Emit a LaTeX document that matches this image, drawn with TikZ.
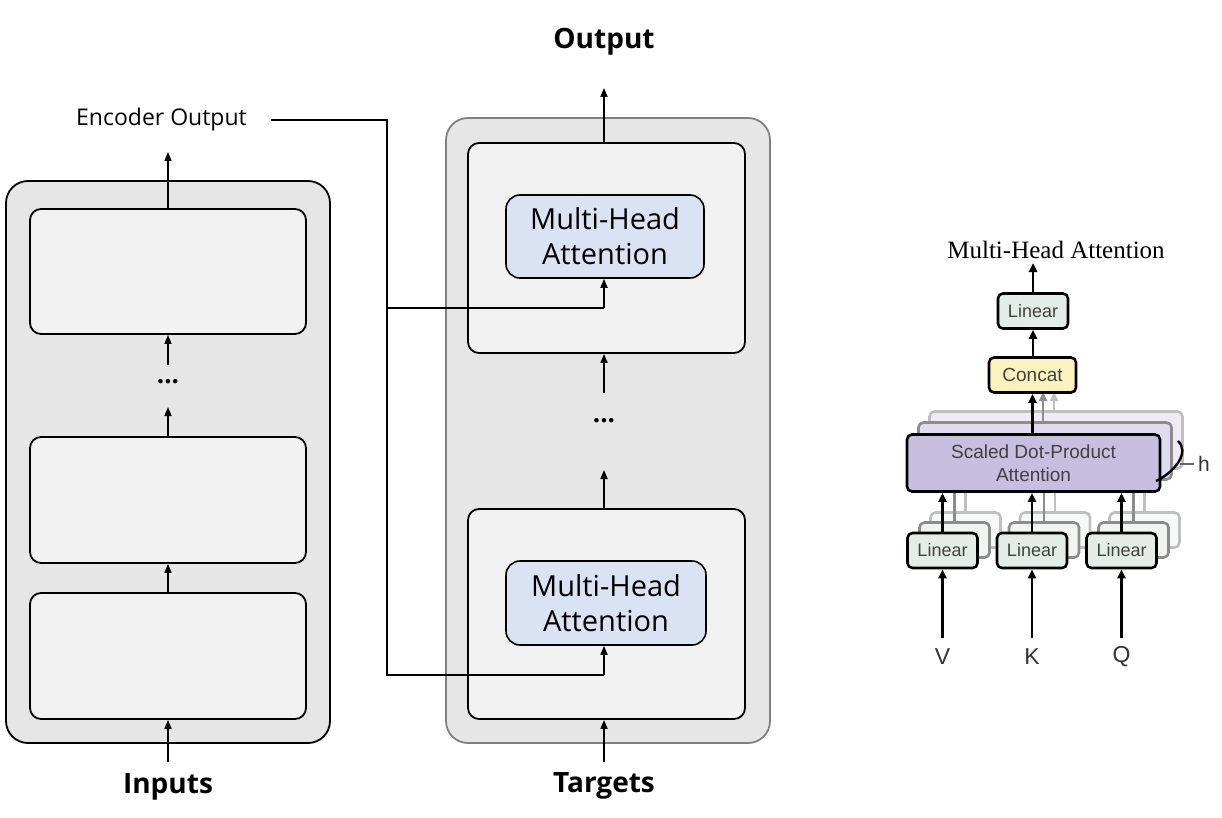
\documentclass[tikz,border=0pt]{standalone}
\usepackage{fontspec}
\setmainfont{Open Sans}
\newfontfamily\helv{Liberation Sans}
\newfontfamily\tms{Liberation Serif}
\usetikzlibrary{arrows.meta}
\definecolor{outerfill}{HTML}{E6E6E6}
\definecolor{innerfill}{HTML}{F2F2F2}
\definecolor{mhafill}{HTML}{DAE3F3}
\definecolor{decborder}{HTML}{808080}
\definecolor{linfill}{HTML}{E4ECE8}
\definecolor{catfill}{HTML}{FBF3BE}
\definecolor{sdpfill}{HTML}{C7BEE0}
\tikzset{
  outerbox/.style={draw=black, line width=1.8pt, fill=outerfill, rounded corners=22pt, inner sep=0pt},
  innerbox/.style={draw=black, line width=1.8pt, fill=innerfill, rounded corners=11pt, inner sep=0pt},
  mhabox/.style={draw=black, line width=1.6pt, fill=mhafill, rounded corners=14pt, inner sep=0pt, align=center, font=\fontsize{29}{35}\selectfont},
  arr/.style={line width=1.6pt, -{Triangle[length=9pt,width=7pt]}},
  conn/.style={line width=1.6pt},
  lbl/.style={inner sep=0pt, font=\fontsize{28}{32}\selectfont\bfseries},
  dots/.style={inner sep=0pt, font=\fontsize{26}{30}\selectfont\bfseries},
  mbox/.style={draw=black, line width=2.6pt, rounded corners=5pt, inner sep=0pt, align=center, font=\helv\fontsize{18}{22}\selectfont, text=black!75},
  shadowA/.style={mbox, draw=black!45, fill=#1!55!white},
  shadowB/.style={mbox, draw=black!25, fill=#1!30!white},
  marr/.style={line width=2.6pt, -{Triangle[length=9pt,width=8pt]}},
}
\begin{document}
\begin{tikzpicture}[x=1pt,y=-1pt]
\useasboundingbox (0,0) rectangle (1222,818);

% ---------- Encoder ----------
\node[outerbox, minimum width=324pt, minimum height=562pt] (enc) at (168,462) {};
\node[innerbox, minimum width=276pt, minimum height=125pt] (e1) at (168,271.5) {};
\node[innerbox, minimum width=276pt, minimum height=126pt] (e2) at (168,500) {};
\node[innerbox, minimum width=276pt, minimum height=126pt] (e3) at (168,656) {};
\node[dots] (edots) at (168,382) {...};
\node[lbl] (inputs) at (168,787) {Inputs};
\node[inner sep=0pt, font=\fontsize{23}{27}\selectfont, anchor=east] (encout) at (247,120) {Encoder Output};
\coordinate (eintop) at (168,762);
\coordinate (etop) at (168,152);
\coordinate (ed1) at (168,407);
\coordinate (ed2) at (168,365);
\draw[arr] (eintop) -- (e3.south);
\draw[arr] (e3.north) -- (e2.south);
\draw[arr] (e2.north) -- (ed1);
\draw[arr] (ed2) -- (e1.south);
\draw[arr] (e1.north) -- (etop);

% ---------- Decoder ----------
\node[outerbox, draw=decborder, minimum width=324pt, minimum height=625pt] (dec) at (608,430.5) {};
\node[innerbox, minimum width=277pt, minimum height=210pt] (d1) at (606.5,248) {};
\node[innerbox, minimum width=277pt, minimum height=210pt] (d2) at (606.5,614) {};
\node[mhabox, minimum width=198pt, minimum height=83pt] (m1) at (605,236.5) {Multi-Head\\Attention};
\node[mhabox, minimum width=200pt, minimum height=84pt] (m2) at (606,603) {Multi-Head\\Attention};
\node[dots] (ddots) at (604,421) {...};
\node[lbl] (targets) at (604,786) {Targets};
\node[lbl] (output) at (604,42) {Output};
\coordinate (dintop) at (604,762);
\coordinate (dtop) at (604,88);
\coordinate (dd1) at (604,470);
\coordinate (dd2) at (604,393);
\draw[arr] (dintop) -- (d2.south -| dintop);
\draw[arr] (d2.north -| dintop) -- (dd1);
\draw[arr] (dd2) -- (d1.south -| dd2);
\draw[arr] (d1.north -| dtop) -- (dtop);

% encoder output connection
\coordinate (c0) at (271,120);
\coordinate (c1) at (387,120);
\coordinate (cb) at (387,308);
\coordinate (c2) at (387,675);
\coordinate (c3) at (604,675);
\coordinate (cb2) at (604,308);
\draw[conn] (c0) -- (c1) -- (c2) -- (c3);
\draw[arr] (c3) -- (c3 |- m2.south);
\draw[conn] (cb) -- (cb2);
\draw[arr] (cb2) -- (cb2 |- m1.south);

% ---------- Multi-Head Attention figure ----------
\node[inner sep=0pt, font=\tms\fontsize{25}{30}\selectfont] (mhtitle) at (1056,250) {Multi-Head Attention};

% shadows of bottom linear boxes
\foreach \cx/\nm in {942.5/v,1032/k,1121.5/q}{
  \node[shadowB=linfill, minimum width=70pt, minimum height=35pt] (\nm s2) at (\cx+23,530) {};
  \node[shadowA=linfill, minimum width=70pt, minimum height=35pt] (\nm s1) at (\cx+12,540) {};
}
% shadows of scaled dot-product
\node[shadowB=sdpfill, minimum width=253pt, minimum height=57pt] (sdp2) at (1056,440) {};
\node[shadowA=sdpfill, minimum width=253pt, minimum height=57pt] (sdp1) at (1045,451) {};

% faded connectors
\foreach \cx in {942.5,1032,1121.5}{
  \draw[line width=2.4pt, black!45] (\cx+12,522) -- (\cx+12,480);
  \draw[line width=2.4pt, black!25] (\cx+23,512) -- (\cx+23,470);
}
\draw[marr, black!45] (1043,423) -- (1043,392);
\draw[marr, black!25] (1054,412) -- (1054,392);

\node[mbox, fill=sdpfill, minimum width=253pt, minimum height=57pt, font=\helv\fontsize{19}{23}\selectfont] (sdp) at (1033.5,463) {Scaled Dot-Product\\Attention};
\node[mbox, fill=catfill, minimum width=87pt, minimum height=35pt, font=\helv\fontsize{19}{23}\selectfont] (concat) at (1032.5,375) {Concat};
\node[mbox, fill=linfill, minimum width=70pt, minimum height=35pt] (ltop) at (1033,311) {Linear};
\node[mbox, fill=linfill, minimum width=70pt, minimum height=35pt] (lv) at (942.5,550.5) {Linear};
\node[mbox, fill=linfill, minimum width=70pt, minimum height=35pt] (lk) at (1032,550.5) {Linear};
\node[mbox, fill=linfill, minimum width=70pt, minimum height=35pt] (lq) at (1121.5,550.5) {Linear};

\node[inner sep=0pt, font=\helv\fontsize{23}{27}\selectfont, text=black!80] (V) at (942.5,657) {V};
\node[inner sep=0pt, font=\helv\fontsize{23}{27}\selectfont, text=black!80] (K) at (1032,657) {K};
\node[inner sep=0pt, font=\helv\fontsize{23}{27}\selectfont, text=black!80] (Q) at (1121.5,657) {Q};
\node[inner sep=0pt, font=\helv\fontsize{21}{24}\selectfont, text=black!80] (h) at (1204,464) {h};

\coordinate (vin) at (942.5,638);
\coordinate (kin) at (1032,638);
\coordinate (qin) at (1121.5,638);
\draw[marr] (vin) -- (lv.south);
\draw[marr] (kin) -- (lk.south);
\draw[marr] (qin) -- (lq.south);
\draw[marr] (lv.north) -- (lv.north |- sdp.south);
\draw[marr] (lk.north) -- (lk.north |- sdp.south);
\draw[marr] (lq.north) -- (lq.north |- sdp.south);
\draw[marr] (sdp.north -| concat.south) -- (concat.south);
\draw[marr] (concat.north -| ltop.south) -- (ltop.south);
\coordinate (mtop) at (1033,263);
\draw[marr] (ltop.north) -- (mtop);

% brace for h
\coordinate (b1) at (1178,441);
\coordinate (b2) at (1156,481);
\draw[line width=2.4pt] (b1) .. controls (1190,452) and (1175,472) .. (b2);
\draw[line width=1.6pt, black!60] (1180,464) -- (1194,464);
\end{tikzpicture}
\end{document}
